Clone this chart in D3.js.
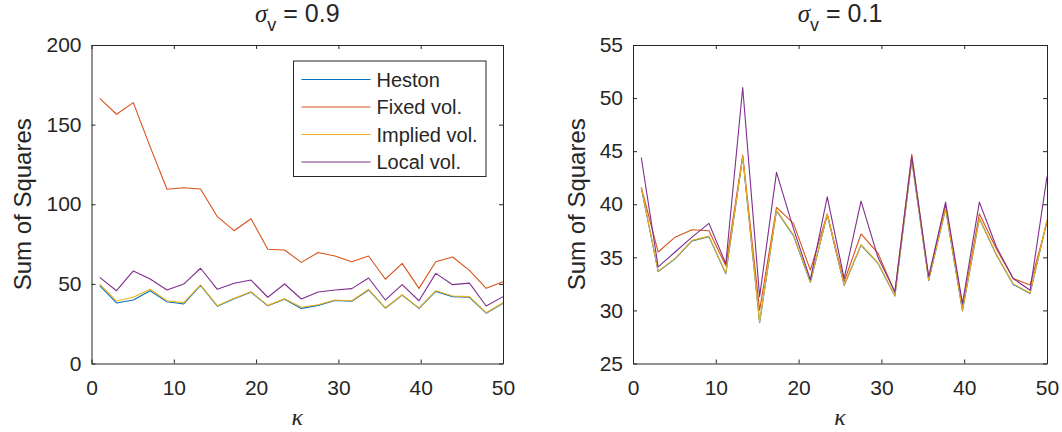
<!DOCTYPE html>
<html>
<head>
<meta charset="utf-8">
<script src="https://cdn.jsdelivr.net/npm/d3@7"></script>
<style>
  body{margin:0;background:#fff;}
  svg text{font-family:"Liberation Sans",Arial,sans-serif;fill:#262626;}
</style>
</head>
<body>
<svg id="chart" width="1062" height="432"></svg>
<script>
//kappa values (x) shared by both panels
var kappa = [1, 3.04, 5.08, 7.13, 9.17, 11.21, 13.25, 15.29, 17.33, 19.38, 21.42, 23.46, 25.5,
             27.54, 29.58, 31.63, 33.67, 35.71, 37.75, 39.79, 41.83, 43.88, 45.92, 47.96, 50];

//sigma_v = 0.9
var hestonHigh  = [48.9, 38.0, 39.9, 45.7, 38.8, 37.4, 49.0, 36.0, 40.6, 44.8, 36.2, 40.4, 34.6,
                   36.5, 39.6, 39.1, 46.2, 34.7, 42.9, 34.6, 45.3, 42.0, 41.6, 31.6, 37.8];
var fixedHigh   = [166.5, 156.5, 163.8, 136, 109.4, 110.4, 109.6, 92.2, 83.4, 90.9, 71.7, 71.3, 63.5,
                   69.7, 67.5, 63.9, 67.5, 52.9, 62.9, 47.2, 63.9, 66.9, 58.5, 47.2, 51.4];
var impliedHigh = [49.9, 39.2, 41.6, 46.6, 39.4, 38.2, 49.3, 36.3, 40.9, 45.1, 36.5, 40.7, 35.3,
                   36.9, 39.9, 39.4, 46.6, 35.0, 43.2, 34.9, 45.7, 42.4, 42.0, 31.9, 38.2];
var localHigh   = [54.1, 45.7, 58.1, 53.1, 46.2, 49.9, 59.8, 46.6, 50.4, 52.4, 41.6, 49.9, 40.5,
                   44.9, 46.2, 47.0, 53.7, 39.9, 49.5, 39.4, 56.6, 49.5, 50.5, 36.1, 42.0];

//sigma_v = 0.1
var hestonLow   = [41.55, 33.65, 34.85, 36.55, 36.95, 33.45, 44.45, 28.85, 39.4, 37.05, 32.65, 39.0, 32.35,
                   36.15, 34.45, 31.35, 44.15, 32.8, 39.55, 29.95, 38.65, 35.25, 32.45, 31.6, 38.45];
var fixedLow    = [41.6, 35.5, 36.9, 37.6, 37.5, 34.2, 44.6, 30.0, 39.7, 38.2, 33.8, 39.1, 32.7,
                   37.2, 35.4, 31.7, 44.7, 33.0, 39.9, 30.3, 39.1, 35.8, 33.0, 32.4, 38.3];
var impliedLow  = [41.6, 33.7, 34.9, 36.6, 37.0, 33.5, 44.5, 28.9, 39.45, 37.1, 32.7, 39.07, 32.4,
                   36.2, 34.5, 31.4, 44.2, 32.85, 39.6, 30.0, 38.7, 35.3, 32.5, 31.65, 38.5];
var localLow    = [44.4, 34.1, 35.5, 36.9, 38.2, 34.4, 51.0, 31.3, 43.0, 37.7, 32.9, 40.7, 33.0,
                   40.3, 35.0, 31.75, 44.5, 33.2, 40.2, 30.65, 40.2, 36.0, 33.0, 31.9, 42.6];

var seriesNames = ['Heston', 'Fixed vol.', 'Implied vol.', 'Local vol.'];
var seriesColors = ['#0072BD', '#D95319', '#EDB120', '#7E2F8E'];

var xTicks = [0, 10, 20, 30, 40, 50];
var yTicksHigh = [0, 50, 100, 150, 200];
var yTicksLow = [25, 30, 35, 40, 45, 50, 55];

var svg = d3.select('#chart');
var axisColor = '#262626';

//draw one panel
var drawPanel = function(opt){
    var x = d3.scaleLinear().domain([0, 50]).range([opt.left, opt.right]);
    var y = d3.scaleLinear().domain(opt.yDomain).range([opt.bottom, opt.top]);
    var g = svg.append('g');

    //lines (in plot order)
    var line = d3.line().x((d, i) => x(kappa[i])).y(d => y(d));
    opt.series.forEach((s, i) => {
        g.append('path')
         .attr('d', line(s))
         .attr('fill', 'none')
         .attr('stroke', seriesColors[i])
         .attr('stroke-width', 1.1)
         .attr('stroke-linejoin', 'round');
    });

    //axes, ticks point inward (matlab style)
    var styleAxis = function(sel){
        sel.selectAll('path').attr('stroke', axisColor).attr('stroke-width', 1);
        sel.selectAll('line').attr('stroke', axisColor).attr('stroke-width', 1);
        sel.selectAll('text').attr('fill', axisColor).style('font-size', '21px')
           .style('font-family', '"Liberation Sans",Arial,sans-serif');
    };
    g.append('g').attr('transform', 'translate(0,' + opt.bottom + ')')
     .call(d3.axisBottom(x).tickValues(xTicks).tickSizeInner(-4).tickSizeOuter(0).tickPadding(17))
     .call(styleAxis);
    g.append('g').attr('transform', 'translate(0,' + opt.top + ')')
     .call(d3.axisTop(x).tickValues(xTicks).tickSizeInner(-4).tickSizeOuter(0).tickFormat(''))
     .call(styleAxis);
    g.append('g').attr('transform', 'translate(' + opt.left + ',0)')
     .call(d3.axisLeft(y).tickValues(opt.yTicks).tickSizeInner(-4).tickSizeOuter(0).tickPadding(10))
     .call(styleAxis);
    g.append('g').attr('transform', 'translate(' + opt.right + ',0)')
     .call(d3.axisRight(y).tickValues(opt.yTicks).tickSizeInner(-4).tickSizeOuter(0).tickFormat(''))
     .call(styleAxis);

    var cx = (opt.left + opt.right) / 2;

    //title sigma_v = ...
    var title = g.append('text')
        .attr('x', cx).attr('y', 22)
        .attr('text-anchor', 'middle')
        .style('font-size', '25px');
    title.append('tspan').text('σ').style('font-style', 'italic')
         .style('font-family', '"Liberation Serif",serif');
    title.append('tspan').text('v').attr('dy', 9).style('font-size', '18px');
    title.append('tspan').text(' = ' + opt.sigma).attr('dy', -9);

    //x label
    g.append('text')
     .attr('x', cx).attr('y', 425)
     .attr('text-anchor', 'middle')
     .style('font-family', '"Liberation Serif",serif')
     .style('font-style', 'italic')
     .style('font-size', '24px')
     .text('κ');

    //y label
    g.append('text')
     .attr('transform', 'translate(' + opt.yLabelX + ',' + ((opt.top + opt.bottom) / 2) + ') rotate(-90)')
     .attr('text-anchor', 'middle')
     .attr('dy', '0.35em')
     .style('font-size', '24px')
     .text('Sum of Squares');

    return g;
};

drawPanel({left: 91.5, right: 503, top: 45, bottom: 363.5, yDomain: [0, 200], yTicks: yTicksHigh,
           series: [hestonHigh, fixedHigh, impliedHigh, localHigh], sigma: '0.9', yLabelX: 23});
drawPanel({left: 633, right: 1047, top: 45, bottom: 363.5, yDomain: [25, 55], yTicks: yTicksLow,
           series: [hestonLow, fixedLow, impliedLow, localLow], sigma: '0.1', yLabelX: 577});

//legend on left panel
var legend = svg.append('g').attr('transform', 'translate(293.5,61)');
legend.append('rect')
      .attr('width', 192.5).attr('height', 115.5)
      .attr('fill', '#fff').attr('stroke', axisColor).attr('stroke-width', 1);
var item = legend.selectAll('g.item')
    .data(seriesNames)
    .enter()
    .append('g')
    .attr('class', 'item')
    .attr('transform', (d, i) => 'translate(0,' + (18.5 + i * 27.5) + ')');
item.append('line')
    .attr('x1', 8).attr('x2', 77)
    .attr('stroke', (d, i) => seriesColors[i]).attr('stroke-width', 1.1);
item.append('text')
    .attr('x', 83).attr('dy', '0.35em')
    .style('font-size', '20px')
    .text(d => d);
</script>
</body>
</html>
